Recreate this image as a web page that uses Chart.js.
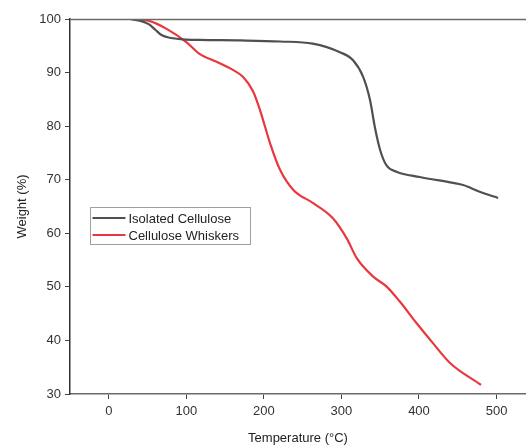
<!DOCTYPE html>
<html>
<head>
<meta charset="utf-8">
<script src="https://cdn.jsdelivr.net/npm/chart.js@4.4.0/dist/chart.umd.min.js"></script>
<style>
    html, body { margin: 0; padding: 0; background: #fff; }
    #wrap { width: 526px; height: 448px; position: relative; }
</style>
</head>
<body>
<div id="wrap"><canvas id="tga"></canvas></div>
<script>
// TGA curves
const cellTemp = [27, 42, 52, 60, 68, 79, 96, 117, 170, 221, 263, 298, 315, 328, 337, 343, 350, 358, 371, 401, 444, 457, 479, 502];
const cellWeight = [100, 99.6, 99.0, 98.0, 97.0, 96.5, 96.2, 96.1, 96.0, 95.8, 95.4, 93.8, 92.3, 89.2, 84.8, 79.9, 75.5, 72.7, 71.5, 70.5, 69.4, 69.0, 67.7, 66.6];

const whiskTemp = [29, 53, 74, 100, 117, 139, 160, 173, 186, 195, 208, 221, 238, 264, 289, 307, 320, 341, 358, 375, 397, 418, 440, 480];
const whiskWeight = [100, 99.6, 98.2, 95.7, 93.5, 92.0, 90.5, 89.2, 86.5, 83.0, 76.8, 71.8, 68.1, 65.6, 62.8, 59.0, 55.3, 51.9, 50.1, 47.3, 43.2, 39.5, 35.8, 31.7];

const xTicks = [0, 100, 200, 300, 400, 500];
const seriesNames = ['Isolated Cellulose', 'Cellulose Whiskers'];

function toPoints(xs, ys) {
    return xs.map((x, i) => ({ x: x, y: ys[i] }));
}

const FONT = 'Liberation Sans, Arial, sans-serif';

// top frame line + legend box inside the plot
const framePlugin = {
    id: 'frame',
    afterDraw(chart) {
        const c = chart.ctx;
        const a = chart.chartArea;
        c.save();
        c.strokeStyle = '#6b6b6b';
        c.lineWidth = 1.5;
        c.beginPath();
        c.moveTo(a.left, a.top + 0.5);
        c.lineTo(a.right, a.top + 0.5);
        c.stroke();

        // legend
        const bx = 90.5, by = 207.5, bw = 160, bh = 37;
        c.strokeStyle = '#a0a0a0';
        c.lineWidth = 1;
        c.strokeRect(bx, by, bw, bh);
        c.font = '13px ' + FONT;
        c.textBaseline = 'middle';
        chart.data.datasets.forEach((ds, i) => {
            const yy = by + 10.5 + i * 17;
            c.strokeStyle = ds.borderColor;
            c.lineWidth = 2.2;
            c.beginPath();
            c.moveTo(bx + 2, yy);
            c.lineTo(bx + 35, yy);
            c.stroke();
            c.fillStyle = '#222';
            c.fillText(ds.label, bx + 38, yy + 1);
        });
        c.restore();
    }
};

new Chart(document.getElementById('tga'), {
    type: 'line',
    data: {
        datasets: [
            {
                label: seriesNames[0],
                data: toPoints(cellTemp, cellWeight),
                borderColor: '#505050',
                borderWidth: 2.2,
                pointRadius: 0,
                cubicInterpolationMode: 'monotone'
            },
            {
                label: seriesNames[1],
                data: toPoints(whiskTemp, whiskWeight),
                borderColor: '#e8373e',
                borderWidth: 2.2,
                pointRadius: 0,
                cubicInterpolationMode: 'monotone'
            }
        ]
    },
    options: {
        responsive: true,
        maintainAspectRatio: false,
        animation: false,
        layout: {
            padding: { top: 19, right: 0, left: 0, bottom: 0 }
        },
        plugins: {
            legend: { display: false },
            tooltip: { enabled: false }
        },
        scales: {
            x: {
                type: 'linear',
                min: -50,
                max: 538,
                afterBuildTicks: s => { s.ticks = xTicks.map(v => ({ value: v })); },
                afterFit: s => { s.height = 54; },
                grid: {
                    drawOnChartArea: false,
                    drawTicks: true,
                    tickLength: 5,
                    color: '#444'
                },
                border: { display: true, color: '#6b6b6b', width: 1.5 },
                ticks: {
                    color: '#333',
                    padding: 5,
                    maxRotation: 0,
                    font: { family: FONT, size: 13 }
                },
                title: {
                    display: true,
                    text: 'Temperature (\u00B0C)',
                    color: '#222',
                    padding: { top: 4, bottom: 2 },
                    font: { family: FONT, size: 13 }
                }
            },
            y: {
                min: 30,
                max: 100,
                afterFit: s => { s.width = 70; },
                grid: {
                    drawOnChartArea: false,
                    drawTicks: true,
                    tickLength: 5,
                    color: '#444'
                },
                border: { display: true, color: '#333', width: 1.5 },
                ticks: {
                    stepSize: 10,
                    color: '#333',
                    padding: 4,
                    font: { family: FONT, size: 13 }
                },
                title: {
                    display: true,
                    text: 'Weight (%)',
                    color: '#222',
                    padding: { top: 15, bottom: 0 },
                    font: { family: FONT, size: 13 }
                }
            }
        }
    },
    plugins: [framePlugin]
});
</script>
</body>
</html>
